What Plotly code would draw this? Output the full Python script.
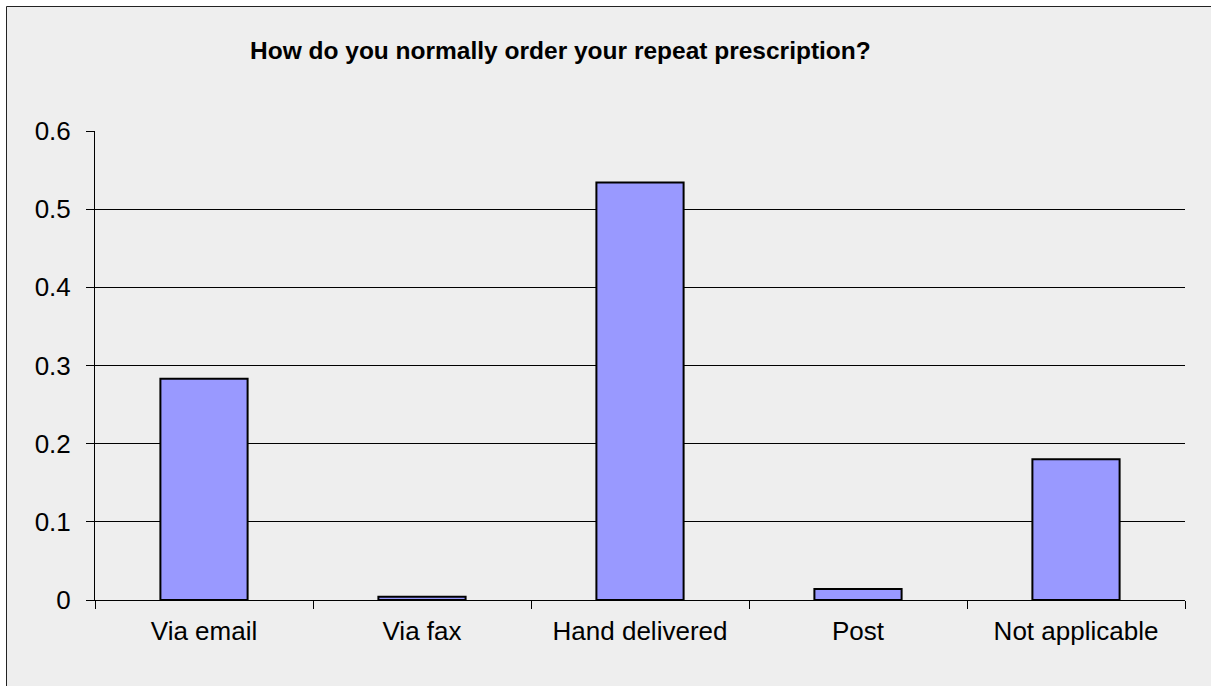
import plotly.graph_objects as go

categories = ["Via email", "Via fax", "Hand delivered", "Post", "Not applicable"]
values = [0.283, 0.004, 0.534, 0.014, 0.180]
y_ticks = [0, 0.1, 0.2, 0.3, 0.4, 0.5, 0.6]
title_text = "How do you normally order your repeat prescription?"

W, H = 1211, 686
ml, mr, mt, mb = 95, 26, 131, 86
pw, ph = W - ml - mr, H - mt - mb

def px_x(p):
    return (p - ml) / pw

def px_y(p):
    return (H - mb - p) / ph

FONT = "Liberation Sans, Arial, sans-serif"

fig = go.Figure()
fig.add_trace(go.Bar(
    x=categories, y=values,
    marker=dict(color="#9999FF", line=dict(color="black", width=2)),
    width=0.4,
))

fig.update_layout(
    width=W, height=H,
    margin=dict(l=ml, r=mr, t=mt, b=mb),
    paper_bgcolor="white",
    plot_bgcolor="rgba(0,0,0,0)",
    showlegend=False,
    font=dict(family=FONT, color="black", size=26),
    xaxis=dict(
        type="category", tickson="boundaries", ticks="outside", ticklen=8,
        tickcolor="black", showline=True, linecolor="black", linewidth=1,
        showgrid=False, tickfont=dict(size=26), ticklabelstandoff=8,
    ),
    yaxis=dict(
        range=[0, 0.6], tickvals=y_ticks, ticktext=[f"{v:g}" for v in y_ticks],
        ticks="outside", ticklen=8, tickcolor="black",
        showline=True, linecolor="black", linewidth=1,
        showgrid=True, gridcolor="black", gridwidth=1, zeroline=False,
        tickfont=dict(size=26), ticklabelstandoff=10,
    ),
    shapes=[dict(
        type="rect", xref="paper", yref="paper",
        x0=px_x(6.5), x1=px_x(1400), y0=px_y(900), y1=px_y(6.5),
        fillcolor="#EEEEEE", line=dict(color="#222222", width=1), layer="below",
    )],
    annotations=[dict(
        text=title_text, xref="paper", yref="paper",
        x=px_x(560), y=px_y(51), xanchor="center", yanchor="middle",
        showarrow=False, font=dict(size=24.5, family=FONT, weight="bold"),
    )],
)

fig.write_html(
    "out.html",
    config={"displayModeBar": False},
    post_script="document.body.style.margin='0';document.body.style.overflow='hidden';",
)
